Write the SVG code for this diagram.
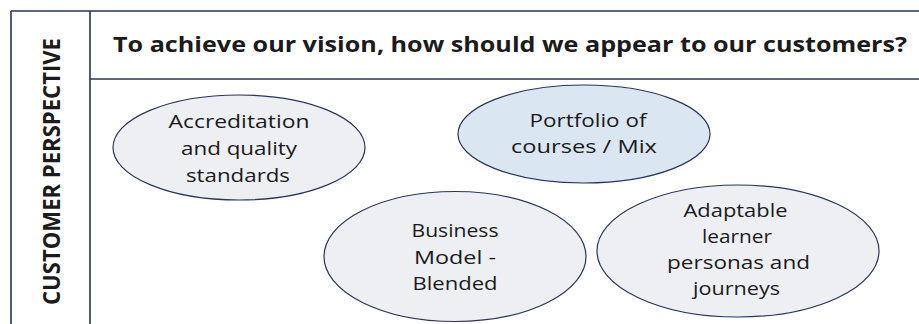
<svg xmlns="http://www.w3.org/2000/svg" width="919" height="324" viewBox="0 0 919 324">
<style>
.frame{stroke:#24345a;stroke-width:1.6;fill:none}
.ell{stroke:#2a3658;stroke-width:1.2}
.gray{fill:#eeeff3}
.blue{fill:#dbe6f3}
.t{font-family:"Open Sans","Liberation Sans",sans-serif;font-size:19px;fill:#1b1b1b;text-anchor:middle}
.title{font-family:"Open Sans","Liberation Sans",sans-serif;font-weight:bold;font-size:21.5px;fill:#1b1b1b}
.side{font-family:"Open Sans","Liberation Sans",sans-serif;font-weight:bold;font-size:23px;fill:#1b1b1b;text-anchor:middle}
</style>
<rect width="919" height="324" fill="#ffffff"/>
<g id="frame">
<line class="frame" x1="11" y1="11" x2="919" y2="11"/>
<line class="frame" x1="11" y1="11" x2="11" y2="324"/>
<line class="frame" x1="90" y1="11" x2="90" y2="324"/>
<line class="frame" x1="90" y1="79" x2="919" y2="79"/>
</g>
<g id="side-label">
<text class="side" transform="translate(60,171.5) rotate(-90)" textLength="267" lengthAdjust="spacingAndGlyphs">CUSTOMER PERSPECTIVE</text>
</g>
<g id="header">
<text class="title" x="113" y="52" textLength="794" lengthAdjust="spacingAndGlyphs">To achieve our vision, how should we appear to our customers?</text>
</g>
<g id="connectors"></g>
<g id="accreditation">
<ellipse class="ell gray" cx="239" cy="147.5" rx="126" ry="52.5"/>
<text class="t" x="239" y="128" textLength="141" lengthAdjust="spacingAndGlyphs">Accreditation</text>
<text class="t" x="239" y="155" textLength="116" lengthAdjust="spacingAndGlyphs">and quality</text>
<text class="t" x="238" y="181.5" textLength="104" lengthAdjust="spacingAndGlyphs">standards</text>
</g>
<g id="portfolio">
<ellipse class="ell blue" cx="584" cy="134" rx="126" ry="49"/>
<text class="t" x="588" y="126.5" textLength="117" lengthAdjust="spacingAndGlyphs">Portfolio of</text>
<text class="t" x="584" y="152.5" textLength="146" lengthAdjust="spacingAndGlyphs">courses / Mix</text>
</g>
<g id="business-model">
<ellipse class="ell gray" cx="455" cy="256.5" rx="131" ry="65"/>
<text class="t" x="455" y="237" textLength="87" lengthAdjust="spacingAndGlyphs">Business</text>
<text class="t" x="455" y="263.5" textLength="82" lengthAdjust="spacingAndGlyphs">Model -</text>
<text class="t" x="455" y="290" textLength="85" lengthAdjust="spacingAndGlyphs">Blended</text>
</g>
<g id="learner-personas">
<ellipse class="ell gray" cx="738" cy="251" rx="141" ry="66"/>
<text class="t" x="735.5" y="216.5" textLength="104" lengthAdjust="spacingAndGlyphs">Adaptable</text>
<text class="t" x="737" y="242.5" textLength="70" lengthAdjust="spacingAndGlyphs">learner</text>
<text class="t" x="738.5" y="268.5" textLength="143" lengthAdjust="spacingAndGlyphs">personas and</text>
<text class="t" x="736.5" y="294.5" textLength="87" lengthAdjust="spacingAndGlyphs">journeys</text>
</g>
</svg>
